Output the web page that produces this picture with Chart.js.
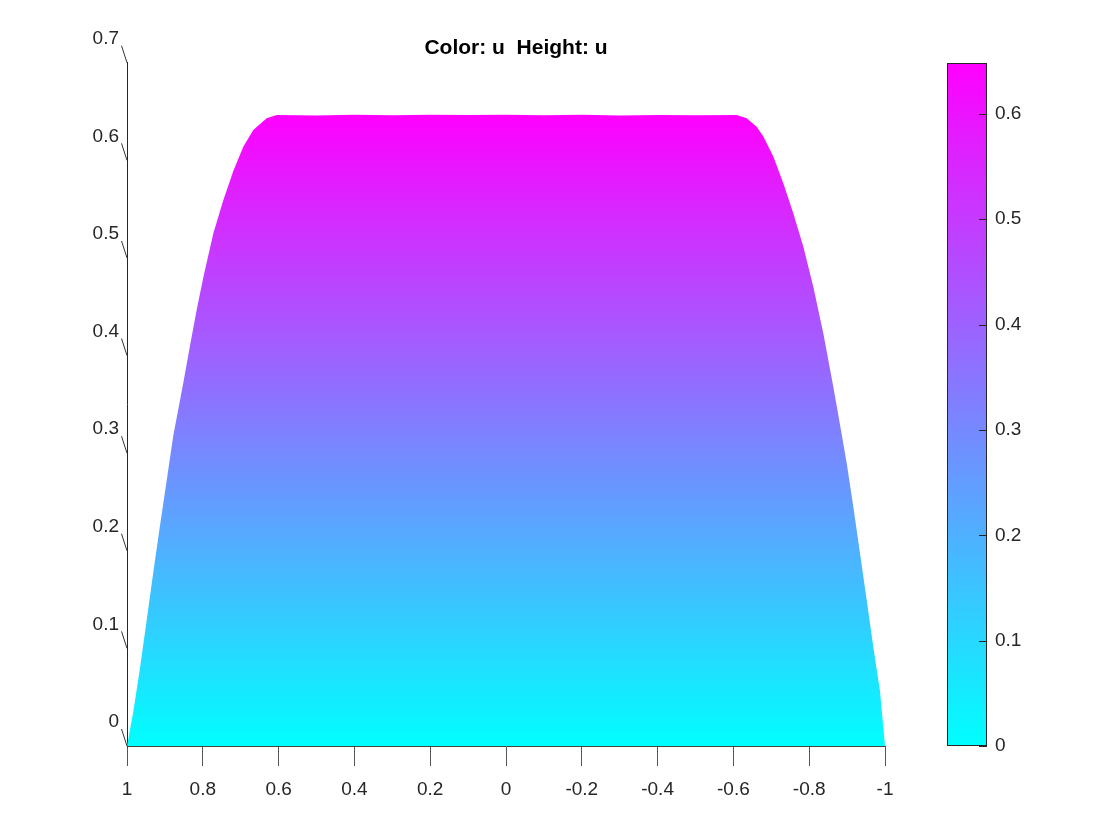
<!DOCTYPE html>
<html>
<head>
<meta charset="utf-8">
<title>Color: u  Height: u</title>
<script src="https://cdn.jsdelivr.net/npm/chart.js@4.4.1/dist/chart.umd.min.js"></script>
<style>
    html, body { margin: 0; background: #fff; }
    #wrap { width: 1120px; height: 840px; }
</style>
</head>
<body>
<div id="wrap"><canvas id="surf" width="1120" height="840"></canvas></div>
<script>
// surface u seen from the side: its outline along x (x axis runs from 1 down to -1)
const xValues = [
    1, 0.9834, 0.9657, 0.948, 0.9306, 0.9129, 0.8953, 0.8778, 0.8514, 0.8338,
    0.8161, 0.7987, 0.7723, 0.7459, 0.7195, 0.6931, 0.6668, 0.6314, 0.605,
    0.5, 0.4, 0.3, 0.2, 0.1, 0, -0.1, -0.2, -0.3, -0.4, -0.5,
    -0.6087, -0.635, -0.6615, -0.679, -0.7053, -0.7317, -0.758, -0.7844, -0.8108,
    -0.8372, -0.8636, -0.8813, -0.899, -0.9164, -0.934, -0.9517, -0.9691, -0.9868, -1
]
const uValues = [
    0, 0.035, 0.080, 0.129, 0.178, 0.226, 0.272, 0.318, 0.372, 0.410,
    0.447, 0.480, 0.525, 0.559, 0.589, 0.614, 0.631, 0.643, 0.6465,
    0.6458, 0.6466, 0.6461, 0.6468, 0.6463, 0.6467, 0.6462, 0.6466, 0.6460, 0.6465, 0.6462,
    0.6465, 0.643, 0.6345, 0.6243, 0.6038, 0.5765, 0.5458, 0.5116, 0.4706,
    0.4228, 0.3681, 0.329, 0.2897, 0.2452, 0.1974, 0.1496, 0.1017, 0.056, 0
]

const xTicks = [1, 0.8, 0.6, 0.4, 0.2, 0, -0.2, -0.4, -0.6, -0.8, -1]
const zTicks = [0, 0.1, 0.2, 0.3, 0.4, 0.5, 0.6, 0.7]
const cbTicks = [0, 0.1, 0.2, 0.3, 0.4, 0.5, 0.6]
const zMax = 0.7
const uMax = 0.6486 // top of the colour bar

const coolLow = '#00ffff'
const coolHigh = '#ff00ff'
const axisColor = '#262626'
const fontFamily = '"Liberation Sans", Arial, Helvetica, sans-serif'

function coolGradient(ctx, yLow, yHigh) {
    const grad = ctx.createLinearGradient(0, yLow, 0, yHigh)
    grad.addColorStop(0, coolLow)
    grad.addColorStop(1, coolHigh)
    return grad
}

function fixedTicks(values) {
    return scale => { scale.ticks = values.map(v => ({ value: v })) }
}

// the 3d z axis has little slanted tick marks
const slantTicks = {
    id: 'slantTicks',
    afterDraw(chart) {
        const ctx = chart.ctx
        const yScale = chart.scales.y
        const x = chart.chartArea.left
        ctx.save()
        ctx.strokeStyle = '#333'
        ctx.lineWidth = 1
        zTicks.forEach(v => {
            const y = yScale.getPixelForValue(v)
            ctx.beginPath()
            ctx.moveTo(x - 5.5, y - 17)
            ctx.lineTo(x, y)
            ctx.stroke()
        })
        ctx.restore()
    }
}

const colorbar = {
    id: 'colorbar',
    afterDraw(chart) {
        const ctx = chart.ctx
        const cb = chart.scales.cb
        const right = Math.round(cb.left + cb.options.grid.tickLength)
        const left = right - 40
        const top = Math.round(cb.getPixelForValue(uMax))
        const bottom = Math.round(cb.getPixelForValue(0))
        ctx.save()
        ctx.fillStyle = coolGradient(ctx, bottom, top)
        ctx.fillRect(left, top, right - left, bottom - top)
        ctx.strokeStyle = axisColor
        ctx.lineWidth = 1
        ctx.strokeRect(left + 0.5, top + 0.5, right - left - 1, bottom - top - 1)
        cbTicks.forEach(v => {
            const y = Math.round(cb.getPixelForValue(v)) + 0.5
            ctx.beginPath()
            ctx.moveTo(right - 8, y)
            ctx.lineTo(right, y)
            ctx.stroke()
        })
        ctx.restore()
    }
}

const labelFont = { family: fontFamily, size: 19 }

new Chart(document.getElementById('surf'), {
    type: 'line',
    data: {
        datasets: [{
            data: xValues.map((x, i) => ({ x: x, y: uValues[i] })),
            fill: 'origin',
            backgroundColor: ctx => {
                const chart = ctx.chart
                if (!chart.chartArea) return coolLow
                const y = chart.scales.y
                return coolGradient(chart.ctx, y.getPixelForValue(0), y.getPixelForValue(uMax))
            },
            borderWidth: 0,
            pointRadius: 0,
            tension: 0
        }]
    },
    options: {
        responsive: false,
        animation: false,
        layout: { padding: { left: 0, right: 88, top: 0, bottom: 0 } },
        plugins: {
            legend: { display: false },
            tooltip: { enabled: false },
            title: {
                display: true,
                text: 'Color: u  Height: u',
                color: '#000',
                font: { family: fontFamily, size: 21, weight: 'bold' },
                padding: { top: 36, bottom: 1.5 }
            }
        },
        scales: {
            x: {
                type: 'linear',
                reverse: true,
                min: -1,
                max: 1,
                afterBuildTicks: fixedTicks(xTicks),
                afterFit: s => { s.height = 94 },
                ticks: {
                    callback: v => String(v),
                    font: labelFont,
                    color: axisColor,
                    padding: 12,
                    maxRotation: 0,
                    autoSkip: false
                },
                grid: { drawOnChartArea: false, tickLength: 20, tickColor: '#555', color: '#555' },
                border: { color: '#444' }
            },
            y: {
                type: 'linear',
                position: 'left',
                min: 0,
                max: zMax,
                afterBuildTicks: fixedTicks(zTicks),
                afterFit: s => { s.width = 127 },
                ticks: {
                    callback: v => String(v),
                    font: labelFont,
                    color: axisColor,
                    padding: 8,
                    labelOffset: -24
                },
                grid: { display: false, drawTicks: false },
                border: { display: true, color: axisColor }
            },
            cb: {
                axis: 'y',
                type: 'linear',
                position: 'right',
                min: 0,
                max: uMax,
                afterBuildTicks: fixedTicks(cbTicks),
                afterFit: s => { s.width = 147 },
                ticks: {
                    callback: v => String(v),
                    font: labelFont,
                    color: axisColor,
                    padding: 8
                },
                grid: { drawOnChartArea: false, drawTicks: true, tickLength: 102, color: 'rgba(0,0,0,0)' },
                border: { display: false }
            }
        }
    },
    plugins: [slantTicks, colorbar]
})
</script>
</body>
</html>
